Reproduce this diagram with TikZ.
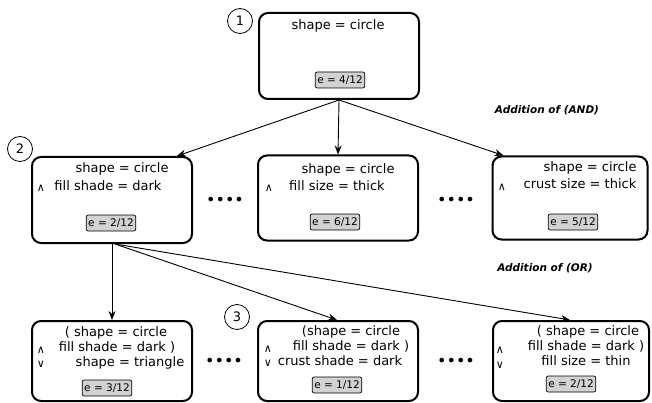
\documentclass[tikz,border=0pt]{standalone}
\usepackage{fontspec}
\setmainfont{DejaVu Sans}
\usepackage{tikz}
\usetikzlibrary{positioning,arrows.meta}

\begin{document}
\begin{tikzpicture}[x=1pt,y=-1pt,
    rule/.style={draw,line width=2pt,rounded corners=9pt,minimum width=160pt,minimum height=85pt,inner sep=0pt},
    evalbox/.style={draw,fill=gray!35,line width=0.7pt,rounded corners=2pt,inner xsep=2pt,inner ysep=0pt,minimum height=16pt,font=\fontsize{10.5}{12}\selectfont},
    txt/.style={inner sep=0pt,text height=10pt,text depth=3pt,font=\fontsize{13}{15}\selectfont},
    op/.style={inner sep=0pt,font=\fontsize{11}{13}\selectfont},
    num/.style={draw,circle,line width=0.8pt,minimum size=25pt,inner sep=0pt,font=\fontsize{13}{15}\selectfont},
    more/.style={inner sep=0pt,font=\fontsize{16}{18}\selectfont},
    addlabel/.style={inner sep=0pt,font=\fontsize{10.5}{12}\selectfont\bfseries\itshape},
    link/.style={-{Stealth[length=9pt,width=7pt]},line width=0.9pt}]
      \useasboundingbox (0,0) rectangle (652,403);
      \node[rule,minimum height=86pt] (root) at (339,56) {};
      \node[num] (n1) at (240,21) {1};
      \node[txt] (rootA) at (338,26) {shape = circle};
      \node[evalbox] (rootE) at (340,80) {e = 4/12};
      \node[addlabel] (andlabel) at (547,110) {Addition of (AND)};
      \node[addlabel] (orlabel) at (545,268) {Addition of (OR)};
      \node[rule,minimum height=86pt] (and1) at (112,200) {};
      \node[num] (n2) at (20,149) {2};
      \node[txt] (and1A) at (122,169) {shape = circle};
      \node[op] (and1op) at (41,188) {∧};
      \node[txt] (and1B) at (108,187) {fill shade = dark};
      \node[evalbox] (and1E) at (111,223) {e = 2/12};
      \node[more] (dotsA) at (225,201) {••••};
      \node[rule] (and2) at (338,198) {};
      \node[txt] (and2A) at (348,170) {shape = circle};
      \node[op] (and2op) at (269,188) {∧};
      \node[txt] (and2B) at (337,187) {fill size = thick};
      \node[evalbox] (and2E) at (335,222) {e = 6/12};
      \node[more] (dotsB) at (456,201) {••••};
      \node[rule,minimum width=155pt,minimum height=83pt] (and3) at (570,198) {};
      \node[txt] (and3A) at (590,168) {shape = circle};
      \node[op] (and3op) at (502,187) {∧};
      \node[txt] (and3B) at (580,185) {crust size = thick};
      \node[evalbox] (and3E) at (573,222) {e = 5/12};
      \node[rule,minimum height=80pt] (or1) at (112,361) {};
      \node[txt] (or1A) at (116,333) {( shape = circle};
      \node[op] (or1opA) at (41,350) {∧};
      \node[txt] (or1B) at (117,348) {fill shade = dark )};
      \node[op] (or1opB) at (41,364) {∨};
      \node[txt] (or1C) at (130,363) {shape = triangle};
      \node[evalbox] (or1E) at (107,388) {e = 3/12};
      \node[num] (n3) at (237,317) {3};
      \node[more] (dotsC) at (224,362) {••••};
      \node[rule,minimum height=80pt] (or2) at (338,361) {};
      \node[txt] (or2A) at (351,332) {(shape = circle};
      \node[op] (or2opA) at (268,349) {∧};
      \node[txt] (or2B) at (351,347) {fill shade = dark )};
      \node[op] (or2opB) at (268,363) {∨};
      \node[txt] (or2C) at (340,362) {crust shade = dark};
      \node[evalbox] (or2E) at (337,385) {e = 1/12};
      \node[more] (dotsD) at (456,362) {••••};
      \node[rule,minimum width=156pt,minimum height=80pt] (or3) at (571,361) {};
      \node[txt] (or3A) at (588,332) {( shape = circle};
      \node[op] (or3opA) at (500,350) {∧};
      \node[txt] (or3B) at (586,347) {fill shade = dark )};
      \node[op] (or3opB) at (500,365) {∨};
      \node[txt] (or3C) at (586,362) {fill size = thin};
      \node[evalbox] (or3E) at (571,384) {e = 2/12};
      \draw[link] (root.south) -- ([xshift=-16pt]and1.north east);
      \draw[link] (root.south) -- (and2.north);
      \draw[link] (root.south) -- ([xshift=12pt]and3.north west);
      \draw[link] (and1.south) -- (or1.north);
      \foreach \dst in {or2,or3}
               {\draw[link] ([xshift=3pt]and1.south) -- ([xshift=-1pt]\dst.north);}
\end{tikzpicture}
\end{document}
